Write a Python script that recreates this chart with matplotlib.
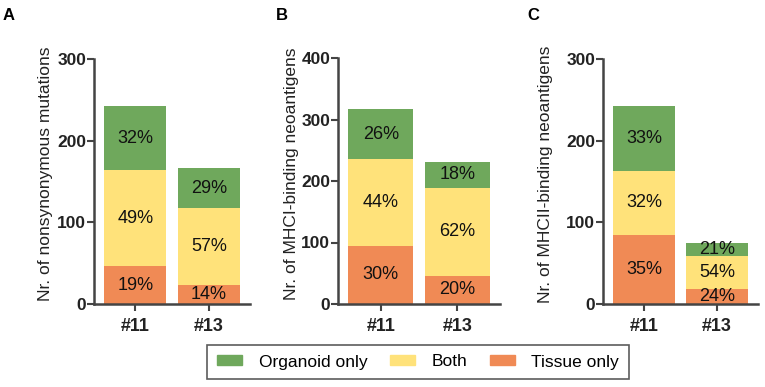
import matplotlib
matplotlib.use("Agg")
import matplotlib.pyplot as plt
from matplotlib.patches import Patch

plt.rcParams['font.family'] = ['Liberation Sans', 'DejaVu Sans']

samples = ['#11', '#13']
categories = ['Tissue only', 'Both', 'Organoid only']
colors = {'Tissue only': '#F08A55', 'Both': '#FFE27A', 'Organoid only': '#6FA85C'}

# stacked counts per panel: tissue, both, organoid (for #11, #13)
mut_tissue = [46, 23]
mut_both = [118, 94]
mut_organoid = [78, 49]
mut_pct = [['19%', '49%', '32%'], ['14%', '57%', '29%']]

mhc1_tissue = [95, 46]
mhc1_both = [140, 143]
mhc1_organoid = [82, 42]
mhc1_pct = [['30%', '44%', '26%'], ['20%', '62%', '18%']]

mhc2_tissue = [85, 18]
mhc2_both = [78, 41]
mhc2_organoid = [80, 16]
mhc2_pct = [['35%', '32%', '33%'], ['24%', '54%', '21%']]

panels = [
    ('A', 'Nr. of nonsynonymous mutations', mut_tissue, mut_both, mut_organoid, mut_pct, 300, [0, 100, 200, 300]),
    ('B', 'Nr. of MHCI-binding neoantigens', mhc1_tissue, mhc1_both, mhc1_organoid, mhc1_pct, 400, [0, 100, 200, 300, 400]),
    ('C', 'Nr. of MHCII-binding neoantigens', mhc2_tissue, mhc2_both, mhc2_organoid, mhc2_pct, 300, [0, 100, 200, 300]),
]

W, H = 765, 387
fig = plt.figure(figsize=(W / 100, H / 100), dpi=100)

# axes boxes in pixels: left, right, y of top tick
boxes = [(94, 250, 59), (338, 500, 58), (603, 758, 59)]
letters_x = [9, 282, 533]
ylabel_x = [53, 299, 553]
bottom_px = 304

for (letter, ylab, tis, both, org, pct, ymax, yticks), (l, r, t), lx, yx in zip(panels, boxes, letters_x, ylabel_x):
    ax = fig.add_axes([l / W, 1 - bottom_px / H, (r - l) / W, (bottom_px - t) / H])
    x = range(len(samples))
    bw = 0.85
    ax.bar(x, tis, bw, color=colors['Tissue only'])
    ax.bar(x, both, bw, bottom=tis, color=colors['Both'])
    b2 = [a + b for a, b in zip(tis, both)]
    ax.bar(x, org, bw, bottom=b2, color=colors['Organoid only'])
    for i in x:
        segs = [(0, tis[i]), (tis[i], both[i]), (b2[i], org[i])]
        for (b, h), p in zip(segs, pct[i]):
            ax.text(i, b + h / 2, p, ha='center', va='center', fontsize=13, color='#111111')
    ax.set_xlim(-0.56, 1.56)
    ax.set_ylim(0, ymax)
    ax.set_yticks(yticks)
    ax.set_xticks(list(x))
    ax.set_xticklabels(samples, fontsize=13, fontweight='bold', color='#222222')
    ax.tick_params(axis='y', labelsize=12.5, length=5, width=1.5, color='#444444', labelcolor='#222222', pad=0.5)
    ax.tick_params(axis='x', length=5, width=1.5, color='#444444', pad=5)
    for lab in ax.get_yticklabels():
        lab.set_fontweight('bold')
    for s in ['top', 'right']:
        ax.spines[s].set_visible(False)
    for s in ['left', 'bottom']:
        ax.spines[s].set_linewidth(1.8)
        ax.spines[s].set_color('#444444')
    ax.set_ylabel(ylab, fontsize=12.5, color='#222222')
    ax.yaxis.set_label_coords((yx - l) / (r - l), 0.53)
    fig.text(lx / W, 1 - 15 / H, letter, fontsize=12, fontweight='bold', ha='center', va='center')

handles = [Patch(color=colors[c]) for c in ['Organoid only', 'Both', 'Tissue only']]
leg = fig.legend(handles, ['Organoid only', 'Both', 'Tissue only'], loc='center',
                 bbox_to_anchor=(418 / W, 1 - 362 / H), ncol=3, fontsize=12.5,
                 frameon=True, fancybox=False, edgecolor='#333333',
                 handlelength=1.45, handleheight=0.5, handletextpad=0.95,
                 columnspacing=1.3, borderpad=0.55)
leg.get_frame().set_linewidth(1.2)

fig.savefig('out.png', dpi=100)
